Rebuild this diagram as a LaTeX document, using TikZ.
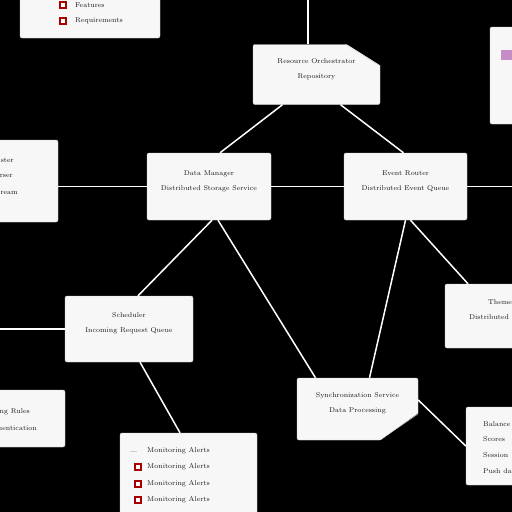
\documentclass[tikz,border=0pt]{standalone}
\usepackage{tikz}
\tikzset{
  card/.style={draw=gray!35, fill=white!97!black, rounded corners=2pt, align=center,
    font=\scriptsize, text=black!90, inner sep=0pt, text depth=12pt},
  txt/.style={font=\scriptsize, text=black!90, inner sep=0pt},
  wire/.style={draw=white, line width=1.5pt},
  tick/.style={draw=red!65!black, fill=white, line width=1.2pt, minimum size=6pt, inner sep=0pt},
}
\begin{document}
\begin{tikzpicture}[x=1pt,y=-1pt]
    \fill[black] (0,0) rectangle (512,512);
    \useasboundingbox (0,0) rectangle (512,512);
    \clip (0,0) rectangle (512,512);

    % boxes
    \node[card, minimum width=140pt, minimum height=52pt] (feat) at (90,12) {};
    \foreach \y/\t in {5/Features, 21/Requirements} {
      \node[tick] (feat\y) at (63,\y) {};
      \node[txt, anchor=west] (featt\y) at (75,\y) {\t};
    } ;

    \node[card, minimum width=127pt, minimum height=60pt] (orch) at (316.5,74.5)
      {Resource Orchestrator\\[7pt]Repository};
    \fill[black] (345,43) -- (383,43) -- (383,67) -- cycle ;
    \draw[gray!35] (345,44) -- (380,66) ;

    \node[card, minimum width=40pt, minimum height=97pt] (side) at (510,75.5) {};
    \fill[violet!45] (501,50) rectangle (513,60) ;

    \node[card, minimum width=80pt, minimum height=82pt] (lft) at (18,181) {};
    \foreach \y/\x/\t in {160/14/Cluster, 175/13/Parser, 192/18/Stream} {
      \node[txt, anchor=east] (lft\y) at (\x,\y) {\t};
    } ;

    \node[card, minimum width=124pt, minimum height=67pt] (data) at (209,186.5)
      {Data Manager\\[7pt]Distributed Storage Service};
    \node[card, minimum width=123pt, minimum height=67pt] (event) at (405.5,186.5)
      {Event Router\\[7pt]Distributed Event Queue};
    \node[card, minimum width=128pt, minimum height=66pt] (sched) at (129,329)
      {Scheduler\\[7pt]Incoming Request Queue};
    \node[card, minimum width=121pt, minimum height=62pt] (sync) at (357.5,409)
      {Synchronization Service\\[7pt]Data Processing};
    \fill[black] (378,442) -- (420,442) -- (420,412) -- cycle ;
    \draw[gray!35] (380,440) -- (418,414) ;

    \node[card, minimum width=90pt, minimum height=64pt] (theme) at (490,316) {};
    \node[txt, anchor=west] (theme1) at (488,303) {Theme Engine};
    \node[txt, anchor=west] (theme2) at (469,317) {Distributed Cache};

    \node[card, minimum width=70pt, minimum height=78pt] (score) at (501,446) {};
    \foreach \y/\t in {424/Balance, 439/Scores, 455/Session, 471/Push data} {
      \node[txt, anchor=west] (score\y) at (483,\y) {\t};
    } ;

    \node[card, minimum width=90pt, minimum height=57pt] (auth) at (20,418.5) {};
    \node[txt, anchor=east] (auth1) at (30,412) {Logging Rules};
    \node[txt, anchor=east] (auth2) at (37,428) {Authentication};

    \node[card, minimum width=137pt, minimum height=107pt] (mon) at (188.5,486.5) {};
    \draw[gray!40, line width=1pt] (130,451) -- (137,451) ;
    \node[txt, anchor=west] (mon451) at (147,451) {Monitoring Alerts};
    \foreach \y in {467, 484, 500} {
      \node[tick] (box\y) at (138,\y) {};
      \node[txt, anchor=west] (mon\y) at (147,\y) {Monitoring Alerts};
    } ;
    \node[tick, draw=violet!60] (box516) at (138,516) {};

    % connectors
    \coordinate (topin) at (308,0) ;
    \coordinate (rgtout) at (512,186.5) ;
    \coordinate (lftin) at (0,329) ;
    \draw[wire] (topin) -- ([xshift=-8.5pt]orch.north) ;
    \draw[wire] ([xshift=-34pt]orch.south) -- ([xshift=11pt]data.north) ;
    \draw[wire] ([xshift=24pt]orch.south) -- ([xshift=-2pt]event.north) ;
    \draw[wire] (data.west -| lft.east) -- (data.west) ;
    \draw[wire] (data.east) -- (event.west) ;
    \draw[wire] (event.east) -- (rgtout) ;
    \draw[wire] ([xshift=3pt]data.south) -- ([xshift=9pt]sched.north) ;
    \draw[wire] ([xshift=9pt]data.south) -- ([xshift=-42pt]sync.north) ;
    \draw[wire] (event.south) -- ([xshift=12pt]sync.north) ;
    \draw[wire] ([xshift=5pt]event.south) -- ([xshift=-22pt]theme.north) ;
    \draw[wire] (lftin) -- (sched.west) ;
    \draw[wire] ([xshift=11pt]sched.south) -- ([xshift=-8.5pt]mon.north) ;
    \draw[wire] ([yshift=9pt]sync.east) -- (score.west) ;
\end{tikzpicture}
\end{document}
